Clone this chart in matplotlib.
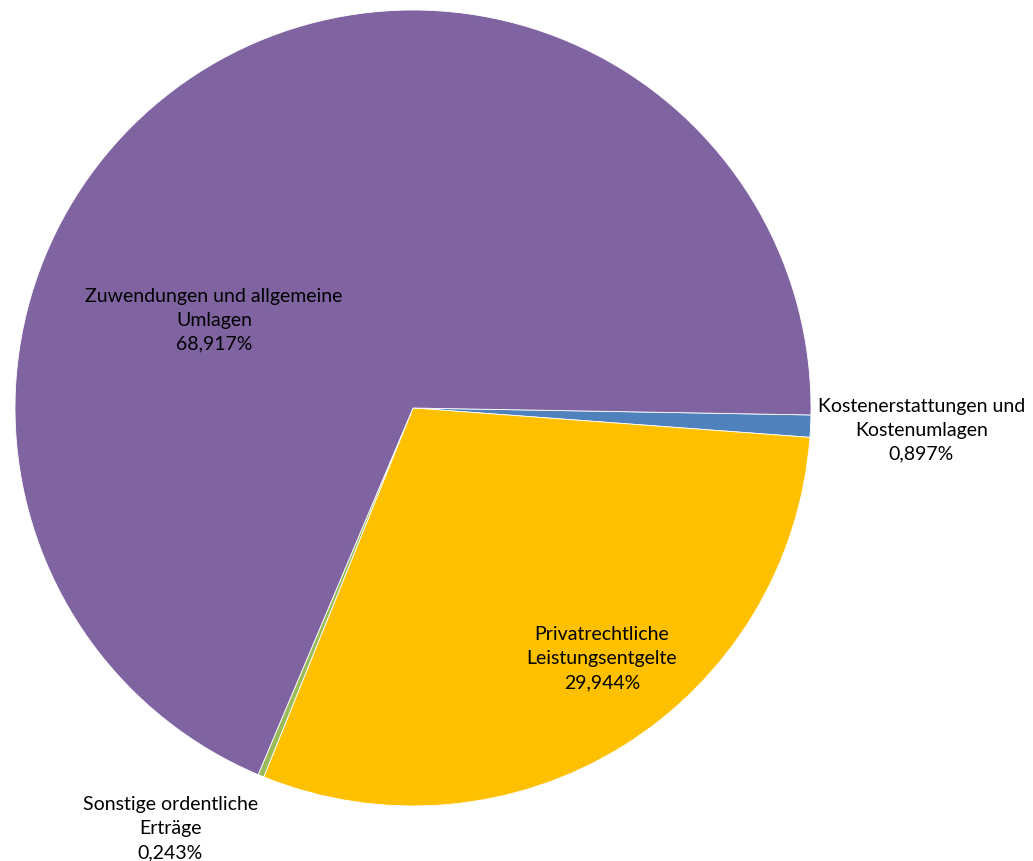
import matplotlib
matplotlib.use("Agg")
from matplotlib import pyplot as plt

# slices in clockwise order, starting just above 3 o'clock
categories = ["Kostenerstattungen und\nKostenumlagen",
              "Privatrechtliche\nLeistungsentgelte",
              "Sonstige ordentliche\nErträge",
              "Zuwendungen und allgemeine\nUmlagen"]
shares = [0.897, 29.944, 0.243, 68.917]
share_labels = ["0,897%", "29,944%", "0,243%", "68,917%"]
colors = ["#4F81BD", "#FFC000", "#9BBB59", "#8064A2"]

# label centres, in units of the pie radius relative to the centre
label_pos = [(1.277, -0.053), (0.475, -0.628), (-0.61, -1.055), (-0.50, 0.223)]

W, H = 1033, 862
cx, cy, r = 413, 409, 398

fig = plt.figure(figsize=(W / 100, H / 100), dpi=100)
ax = fig.add_axes([0, 0, 1, 1])
ax.pie(shares, colors=colors, startangle=-1.0, counterclock=False, radius=1.0,
       wedgeprops=dict(edgecolor="white", linewidth=0.6))
ax.set_xlim(-cx / r, (W - cx) / r)
ax.set_ylim(-(H - cy) / r, cy / r)
ax.set_aspect("equal")
ax.axis("off")

for name, pct, (x, y) in zip(categories, share_labels, label_pos):
    ax.text(x, y, name + "\n" + pct, ha="center", va="center",
            fontsize=14, family=["Lato", "DejaVu Sans"], color="#000000",
            linespacing=1.5)

fig.savefig("out.png", dpi=100, facecolor="white")
